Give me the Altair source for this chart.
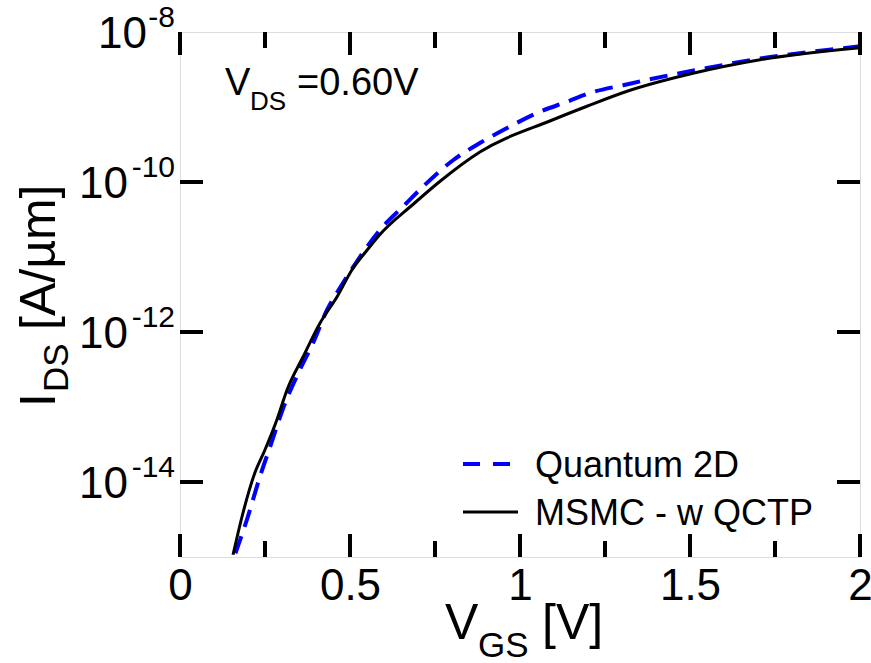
import altair as alt
import pandas as pd

FONT = "Liberation Sans"

# ---- data ----
# MSMC - w QCTP (solid black): V_GS [V] and log10(I_DS [A/um])
msmc_vgs = [0.156, 0.182, 0.22, 0.25, 0.285, 0.315, 0.362, 0.412, 0.462, 0.506, 0.55,
            0.588, 0.685, 0.765, 0.882, 1.097, 1.197, 1.315, 1.509, 1.706, 2.0]
msmc_log_ids = [-14.97, -14.47, -13.88, -13.57, -13.17, -12.77, -12.33, -11.88, -11.53, -11.17, -10.91,
                -10.70, -10.30, -9.99, -9.6, -9.17, -8.99, -8.79, -8.55, -8.37, -8.21]

# Quantum 2D (dashed blue)
q2d_vgs = [0.163, 0.197, 0.235, 0.265, 0.309, 0.353, 0.391, 0.432, 0.476, 0.52, 0.588, 0.662,
           0.715, 0.803, 0.882, 0.962, 1.05, 1.138, 1.215, 1.303, 1.382, 1.55, 1.726, 1.903, 2.0]
q2d_log_ids = [-14.95, -14.5, -13.93, -13.53, -12.95, -12.5, -12.15, -11.71, -11.37, -11.06, -10.64, -10.3,
               -10.06, -9.71, -9.48, -9.28, -9.08, -8.93, -8.8, -8.71, -8.63, -8.48, -8.34, -8.24, -8.19]

x_major = [0, 0.5, 1, 1.5, 2]
x_minor = [0.25, 0.75, 1.25, 1.75]
y_major = [1e-14, 1e-12, 1e-10]
y_label_vals_long = [1e-10, 1e-12, 1e-14]
y_label_exp_long = ["-10", "-12", "-14"]
y_label_vals_short = [1e-8]
y_label_exp_short = ["-8"]

W, H = 680, 525

df_m = pd.DataFrame({"vgs": msmc_vgs, "ids": [10 ** v for v in msmc_log_ids]})
df_q = pd.DataFrame({"vgs": q2d_vgs, "ids": [10 ** v for v in q2d_log_ids]})

xs = alt.Scale(domain=[0, 2], nice=False, zero=False)
ys = alt.Scale(type="log", domain=[1e-15, 1e-8], nice=False)

x_axis = alt.Axis(values=x_major, format="~g", domain=False, ticks=False, tickSize=0,
                  grid=False, labelFontSize=44, labelFont=FONT, labelColor="black",
                  labelPadding=7, labelFlush=False, labelOverlap=False, title=None)

blue = alt.Chart(df_q).mark_line(color="#0000ff", strokeWidth=4, strokeDash=[18, 10], clip=True,
                                 interpolate="monotone").encode(
    x=alt.X("vgs:Q", scale=xs, axis=x_axis),
    y=alt.Y("ids:Q", scale=ys, axis=None),
)
black = alt.Chart(df_m).mark_line(color="black", strokeWidth=3, clip=True,
                                  interpolate="monotone").encode(
    x=alt.X("vgs:Q", scale=xs),
    y=alt.Y("ids:Q", scale=ys),
)

one = alt.Data(values=[{"a": 1}])

def tick_x(vals, y0, y1):
    return alt.Chart(pd.DataFrame({"v": vals})).mark_rule(color="black", strokeWidth=4).encode(
        x=alt.X("v:Q", scale=xs), y=alt.value(y0), y2=alt.value(y1))

def tick_y(vals, x0, x1):
    return alt.Chart(pd.DataFrame({"v": vals})).mark_rule(color="black", strokeWidth=4).encode(
        y=alt.Y("v:Q", scale=ys), x=alt.value(x0), x2=alt.value(x1))

ticks = [
    tick_x(x_major, H, H - 23), tick_x(x_minor, H, H - 16),
    tick_x(x_major, 0, 23), tick_x(x_minor, 0, 16),
    tick_y(y_major, 0, 23), tick_y(y_major, W, W - 23),
]

def ylab(vals, exps, ten_x):
    d = pd.DataFrame({"v": vals, "e": exps, "t": ["10"] * len(vals)})
    ten = alt.Chart(d).mark_text(align="right", baseline="alphabetic", fontSize=44, font=FONT,
                                 color="black", dy=16).encode(
        x=alt.value(ten_x), y=alt.Y("v:Q", scale=ys), text="t:N")
    ex = alt.Chart(d).mark_text(align="right", baseline="alphabetic", fontSize=30, font=FONT,
                                color="black", dy=-5).encode(
        x=alt.value(-5), y=alt.Y("v:Q", scale=ys), text="e:N")
    return [ten, ex]

ylabels = ylab(y_label_vals_long, y_label_exp_long, -52) + ylab(y_label_vals_short, y_label_exp_short, -33)

def txt(s, x, y, size, angle=None, align="left"):
    kw = dict(align=align, baseline="alphabetic", fontSize=size, font=FONT, color="black")
    if angle is not None:
        kw["angle"] = angle
    return alt.Chart(one).mark_text(**kw).encode(x=alt.value(x), y=alt.value(y), text=alt.value(s))

texts = [
    # x title
    txt("V", 265, 607, 50), txt("GS", 298, 625, 35), txt("[V]", 362, 607, 50),
    # y title (rotated)
    txt("I", -125, 375, 50, angle=270), txt("DS", -112, 360, 35, angle=270),
    txt("[A/µm]", -125, 298, 50, angle=270),
    # annotation
    txt("V", 45, 63, 38), txt("DS", 70, 78, 26), txt("=0.60V", 117, 63, 38),
    # legend
    txt("Quantum 2D", 355, 445, 36), txt("MSMC - w QCTP", 355, 493, 36),
]

legend_lines = [
    alt.Chart(one).mark_rule(color="#0000ff", strokeWidth=4, strokeDash=[17, 13]).encode(
        x=alt.value(283), x2=alt.value(332), y=alt.value(432)),
    alt.Chart(one).mark_rule(color="black", strokeWidth=3).encode(
        x=alt.value(283), x2=alt.value(338), y=alt.value(480)),
]

chart = alt.layer(blue, black, *ticks, *ylabels, *texts, *legend_lines).properties(
    width=W, height=H,
    autosize=alt.AutoSizeParams(type="none"),
    padding={"left": 180, "top": 32, "right": 11, "bottom": 106},
).configure_view(stroke="black", strokeWidth=4).configure(background="white")

chart.save("out.html", embed_options={"renderer": "svg", "actions": False})
